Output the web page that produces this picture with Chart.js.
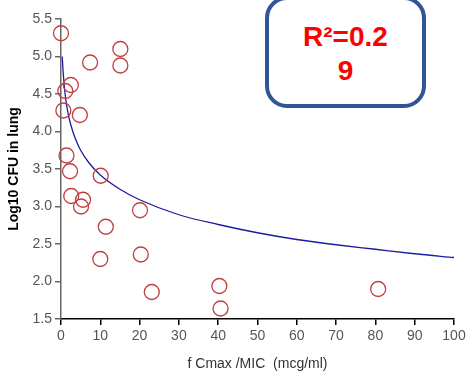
<!DOCTYPE html>
<html>
<head>
<meta charset="utf-8">
<script src="https://cdn.jsdelivr.net/npm/chart.js@4"></script>
<style>
  html, body { margin: 0; padding: 0; background: #fff; }
  #wrap { position: relative; width: 470px; height: 373px; overflow: hidden; }
  #r2 {
    position: absolute; left: 265px; top: -4px; width: 161px; height: 112px;
    box-sizing: border-box;
    border: 4px solid #2f5597; border-radius: 22px; background: #fff;
    color: #ff0000; font: bold 28px "Liberation Sans", Arial, sans-serif;
    text-align: center; line-height: 34px; padding-top: 20px;
  }
</style>
</head>
<body>
<div id="wrap">
  <canvas id="grafico" width="470" height="373"></canvas>
  <div id="r2">R²=0.2<br>9</div>
</div>
<script>
// dados
const cmaxMic = [0, 7.4, 15.1, 15.1, 2.5, 1.1, 0.6, 4.8, 1.4, 2.3, 10.1, 2.6, 5.6, 5.1, 20.1, 11.4, 10.0, 20.3, 23.1, 40.3, 40.6, 80.7];
const logCfu  = [5.31, 4.92, 5.10, 4.88, 4.62, 4.54, 4.28, 4.22, 3.68, 3.47, 3.41, 3.14, 3.09, 3.00, 2.95, 2.73, 2.30, 2.36, 1.86, 1.94, 1.64, 1.90];

// linha de tendência
const trendX = [0.3, 0.37, 0.5, 0.75, 1, 1.5, 2, 3, 4, 5, 7, 10, 15, 20, 30, 40, 50, 60, 70, 80, 90, 100];
const trendY = [5.0, 4.95, 4.83, 4.66, 4.52, 4.33, 4.19, 4.0, 3.86, 3.75, 3.59, 3.42, 3.23, 3.09, 2.89, 2.76, 2.65, 2.56, 2.49, 2.43, 2.37, 2.32];

const xTicks = [0, 10, 20, 30, 40, 50, 60, 70, 80, 90, 100];
const yTicks = [1.5, 2.0, 2.5, 3.0, 3.5, 4.0, 4.5, 5.0, 5.5];

const fonte = { family: '"Liberation Sans", Arial, sans-serif', size: 14 };

const ctx = document.getElementById('grafico').getContext('2d');

new Chart(ctx, {
    type: 'scatter',
    data: {
        datasets: [
            {
                label: 'dados',
                data: cmaxMic.map((x, i) => ({ x, y: logCfu[i] })),
                pointStyle: 'circle',
                pointRadius: 7.5,
                pointHoverRadius: 7.5,
                borderColor: '#c0403f',
                backgroundColor: 'rgba(0,0,0,0)',
                borderWidth: 1.3
            },
            {
                label: 'tendência',
                type: 'line',
                data: trendX.map((x, i) => ({ x, y: trendY[i] })),
                borderColor: '#1c1ca0',
                borderWidth: 1.3,
                pointRadius: 0,
                cubicInterpolationMode: 'monotone',
                fill: false
            }
        ]
    },
    options: {
        responsive: false,
        animation: false,
        clip: false,
        layout: { padding: { top: 19, right: 16, left: 6, bottom: 0 } },
        plugins: {
            legend: { display: false },
            tooltip: { enabled: false }
        },
        scales: {
            x: {
                type: 'linear',
                min: 0,
                max: 100,
                afterBuildTicks: s => { s.ticks = xTicks.map(v => ({ value: v })); },
                afterFit: s => { s.height = 54; },
                border: { display: true, color: '#000', width: 1.5 },
                grid: { drawOnChartArea: false, drawTicks: true, tickLength: 6, color: '#000', lineWidth: 1.5 },
                ticks: { color: '#555', font: fonte, padding: 3 },
                title: {
                    display: true,
                    text: 'f Cmax /MIC  (mcg/ml)',
                    color: '#333',
                    font: fonte,
                    padding: { top: 0, bottom: 0 }
                }
            },
            y: {
                type: 'linear',
                min: 1.5,
                max: 5.5,
                afterBuildTicks: s => { s.ticks = yTicks.map(v => ({ value: v })); },
                afterFit: s => { s.width = 55; },
                border: { display: true, color: '#666', width: 1.5 },
                grid: { drawOnChartArea: false, drawTicks: true, tickLength: 6, color: '#666', lineWidth: 1.5 },
                ticks: {
                    color: '#555',
                    font: fonte,
                    padding: 3,
                    callback: v => v.toFixed(1)
                },
                title: {
                    display: true,
                    text: 'Log10 CFU in lung',
                    color: '#000',
                    font: { ...fonte, size: 14, weight: 'bold' },
                    padding: { top: 0, bottom: 0 }
                }
            }
        }
    }
});
</script>
</body>
</html>
